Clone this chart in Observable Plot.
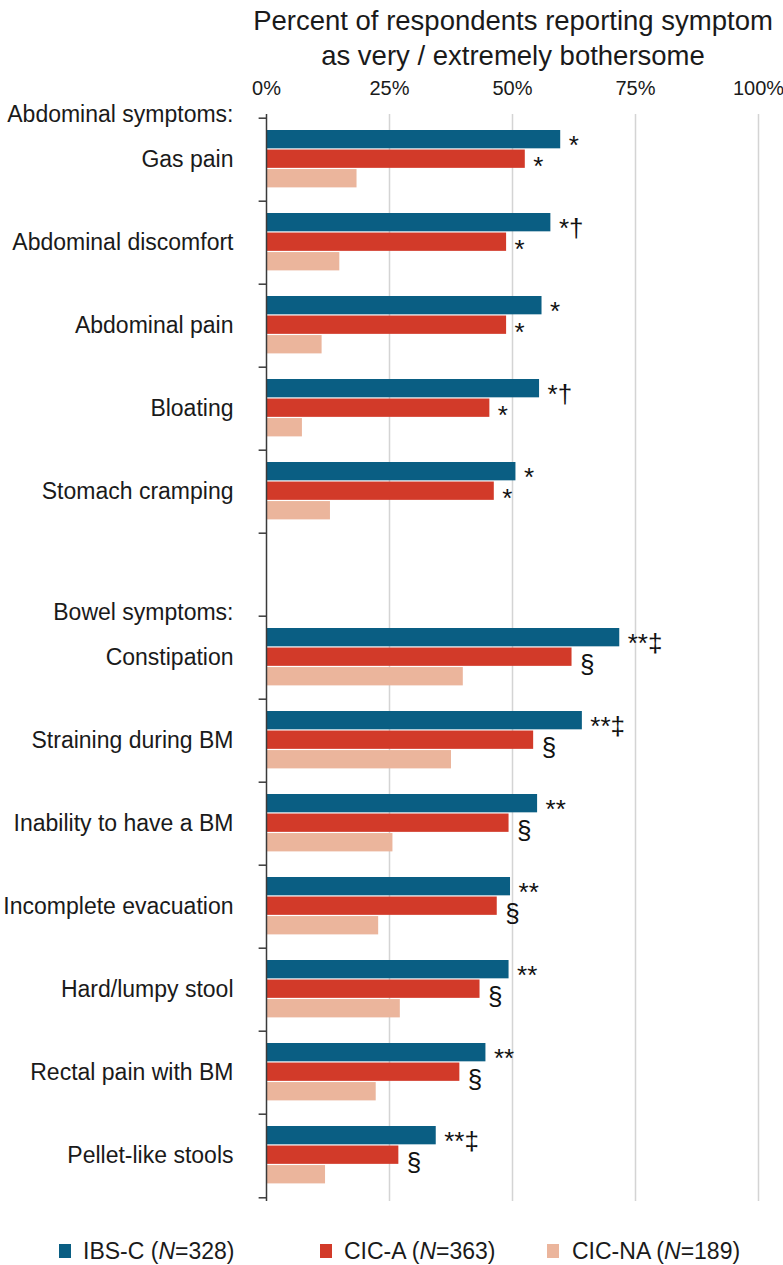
<!DOCTYPE html>
<html>
<head>
<meta charset="utf-8">
<script src="https://cdn.jsdelivr.net/npm/d3@7"></script>
<script src="https://cdn.jsdelivr.net/npm/@observablehq/plot@0.6"></script>
<style>
  html, body { margin: 0; padding: 0; background: #fff; }
  body { font-family: "Liberation Sans", Arial, Helvetica, sans-serif; color: #1a1a1a; }
  #wrap { position: relative; width: 783px; height: 1265px; overflow: hidden; }
  #title { position: absolute; left: 513px; top: 3px; transform: translateX(-50%);
           text-align: center; white-space: nowrap; font-size: 27.5px; line-height: 35px; }
  #chart { position: absolute; left: 0; top: 72px; }
  #legend { position: absolute; left: 0; top: 1236px; width: 783px; height: 30px; font-size: 23px; }
  .sw { position: absolute; top: 8px; width: 12px; height: 14px; }
  .lt { position: absolute; top: 0; line-height: 30px; white-space: nowrap; }
</style>
</head>
<body>
<div id="wrap">
  <div id="title">Percent of respondents reporting symptom<br>as very / extremely bothersome</div>
  <div id="chart"></div>
  <div id="legend"></div>
</div>
<script>
// ---------- data ----------
const abdominalSymptoms = ["Gas pain", "Abdominal discomfort", "Abdominal pain", "Bloating", "Stomach cramping"];
const bowelSymptoms = ["Constipation", "Straining during BM", "Inability to have a BM", "Incomplete evacuation",
                       "Hard/lumpy stool", "Rectal pain with BM", "Pellet-like stools"];
const groupLabels = ["Abdominal symptoms:", "Bowel symptoms:"];
const seriesNames = ["IBS-C", "CIC-A", "CIC-NA"];
const seriesN = [328, 363, 189];
const ibsC  = [59.8, 57.8, 56.0, 55.5, 50.7, 71.8, 64.2, 55.1, 49.6, 49.3, 44.6, 34.5];
const cicA  = [52.6, 48.8, 48.8, 45.4, 46.3, 62.1, 54.3, 49.3, 46.9, 43.4, 39.3, 26.9];
const cicNA = [18.4, 14.9, 11.3,  7.3, 13.0, 40.0, 37.6, 25.7, 22.8, 27.2, 22.3, 12.0];
const ibsCNotes = ["*", "*†", "*", "*†", "*", "**‡", "**‡", "**", "**", "**", "**", "**‡"];
const cicANotes = ["*", "*", "*", "*", "*", "§", "§", "§", "§", "§", "§", "§"];
const xTicks = [0, 25, 50, 75, 100];

// ---------- styles ----------
const seriesColors = ["#0a5e83", "#d23a29", "#ebb59c"];
const legendX = [[59, 83], [320, 344], [547, 572]];

// ---------- build table ----------
const symptoms = [...abdominalSymptoms, ...bowelSymptoms];
const SPACER = "\u2002";
const yDomain = [...abdominalSymptoms, SPACER, ...bowelSymptoms];
const seriesValues = [ibsC, cicA, cicNA];
const seriesNotes = [ibsCNotes, cicANotes, null];
const rows = symptoms.flatMap((s, i) => seriesNames.map((name, k) => ({
  symptom: s, series: name, value: seriesValues[k][i], note: seriesNotes[k] ? seriesNotes[k][i] : ""
})));
const groupStarts = [abdominalSymptoms[0], bowelSymptoms[0]].map((first, i) => ({first, label: groupLabels[i]}));

// ---------- layout ----------
const W = 783, H = 1150, mT = 42, mB = 21, mL = 266, mR = 25;
const BAND = (H - mT - mB) / yDomain.length;
const sub = d3.scaleBand(seriesNames, [12, 70]).paddingInner(0.03);
const barMark = (name) => Plot.barX(rows.filter(d => d.series === name), {
  x: "value", y: "symptom", fill: "series",
  insetTop: sub(name), insetBottom: BAND - sub(name) - sub.bandwidth()
});
const noteFont = 26;

const chart = Plot.plot({
  width: W, height: H,
  marginTop: mT, marginBottom: mB, marginLeft: mL, marginRight: mR,
  style: {fontFamily: "'Liberation Sans', Arial, Helvetica, sans-serif", fontSize: "23px", color: "#1a1a1a", background: "transparent", overflow: "visible"},
  x: {domain: [0, 100], axis: null},
  y: {domain: yDomain, padding: 0, axis: null},
  color: {domain: seriesNames, range: seriesColors},
  marks: [
    Plot.ruleX(xTicks.filter(d => d > 0), {stroke: "#d4d4d4", strokeWidth: 1.5}),
    ...seriesNames.map(barMark),
    Plot.ruleX([0], {stroke: "#3a3a3a", strokeWidth: 1.5}),
    Plot.ruleY(yDomain, {y: d => d, dy: -BAND / 2, x1: -1.5, x2: 0, stroke: "#3a3a3a", strokeWidth: 1.5}),
    Plot.ruleY([yDomain[yDomain.length - 1]], {y: d => d, dy: BAND / 2, x1: -1.5, x2: 0, stroke: "#3a3a3a", strokeWidth: 1.5}),
    Plot.axisX(xTicks, {anchor: "top", tickSize: 0, tickPadding: 20, tickFormat: d => `${d}%`, fontSize: 20, label: null}),
    Plot.text(symptoms, {y: d => d, text: d => d, frameAnchor: "left", dx: -33, textAnchor: "end", lineAnchor: "middle", fontSize: 23}),
    Plot.text(groupStarts, {y: "first", text: "label", frameAnchor: "left", dx: -33, dy: -BAND / 2 - 4, textAnchor: "end", lineAnchor: "middle", fontSize: 23}),
    Plot.text(rows.filter(d => d.series === seriesNames[0]), {x: "value", y: "symptom", text: "note", dx: 8, dy: -6, textAnchor: "start", lineAnchor: "bottom", fontSize: noteFont, fill: "#111"}),
    Plot.text(rows.filter(d => d.series === seriesNames[1]), {x: "value", y: "symptom", text: "note", dx: 8, dy: 15, textAnchor: "start", lineAnchor: "bottom", fontSize: noteFont, fill: "#111"})
  ]
});
document.getElementById("chart").appendChild(chart);

// ---------- legend ----------
const legend = document.getElementById("legend");
seriesNames.forEach((name, k) => {
  const sw = document.createElement("div");
  sw.className = "sw";
  sw.style.left = legendX[k][0] + "px";
  sw.style.background = seriesColors[k];
  legend.appendChild(sw);
  const t = document.createElement("div");
  t.className = "lt";
  t.style.left = legendX[k][1] + "px";
  t.innerHTML = `${name} (<i>N</i>=${seriesN[k]})`;
  legend.appendChild(t);
});
</script>
</body>
</html>
